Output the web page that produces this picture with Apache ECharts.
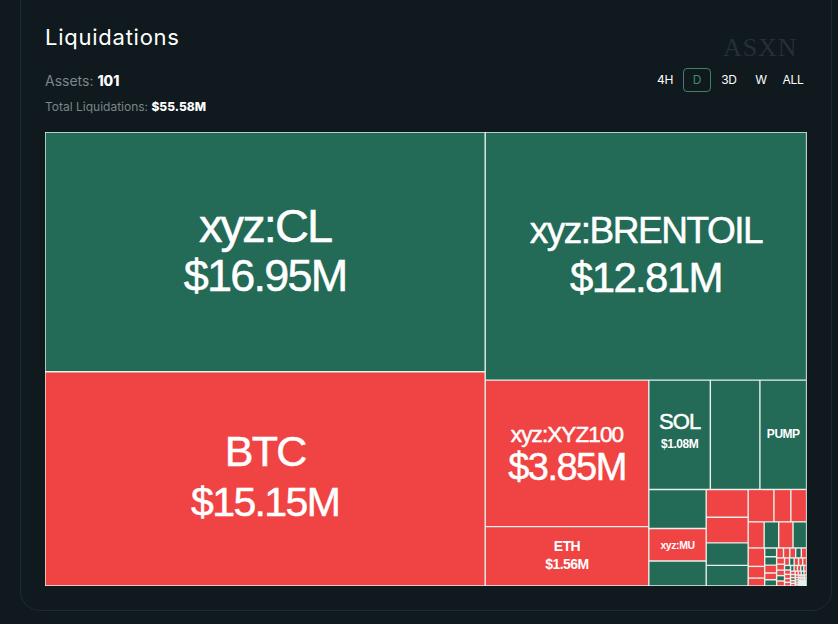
<!DOCTYPE html>
<html>
<head>
<meta charset="utf-8">
<title>Liquidations</title>
<script src="https://cdn.jsdelivr.net/npm/echarts@6/dist/echarts.min.js"></script>
<style>
  html, body { margin: 0; height: 100%; background: #0f191e; overflow: hidden; font-family: Inter, sans-serif; }
  #painel { position: absolute; left: 20px; top: -30px; width: 810px; height: 639px; border: 1px solid #1f2a30; border-radius: 20px; }
  #grafico { position: absolute; left: 0; top: 0; width: 838px; height: 624px; }
  #grafico svg text { letter-spacing: -0.04em; }
  .abs { position: absolute; white-space: nowrap; }
  #titulo { left: 45px; top: 23px; font-size: 22px; line-height: 28px; color: #fff; letter-spacing: 0.75px; }
  #assets { left: 45px; top: 72px; font-size: 14px; line-height: 18px; color: #7c8589; }
  #total { left: 45px; top: 99px; font-size: 12px; line-height: 16px; color: #7c8589; }
  #assets b, #total b { color: #fff; font-weight: 800; }
  #marca { left: 723px; top: 33px; font-family: "Liberation Serif", serif; font-size: 26px; line-height: 30px; color: #262f34; letter-spacing: 0.9px; }
  .btn { top: 68px; width: 28px; height: 24px; margin-left: -14px; box-sizing: border-box; text-align: center; font-size: 12px; line-height: 24px; color: #fff; letter-spacing: -0.3px; }
  .btn.ativo { border: 1px solid #3f7f6e; border-radius: 4px; line-height: 22px; color: #3f8a75; }
</style>
</head>
<body>
<div id="painel"></div>
<div id="grafico"></div>
<div id="titulo" class="abs">Liquidations</div>
<div id="assets" class="abs">Assets: <b>101</b></div>
<div id="total" class="abs">Total Liquidations: <b>$55.58M</b></div>
<div id="marca" class="abs">ASXN</div>
<script>
const periodos = ["4H", "D", "3D", "W", "ALL"];
const periodoAtivo = "D";
const periodoCentros = [665, 697, 729, 761, 793];

// nomes legiveis so nos blocos grandes, o resto fica sem rotulo
const nomes = ["xyz:CL", "BTC", "xyz:BRENTOIL", "xyz:XYZ100", "ETH", "SOL", "", "PUMP", "", "xyz:MU"];

const valores = [
  16.95, 15.15, 12.81, 3.85, 1.56, 1.08, 0.87, 0.82, 0.36, 0.30,
  0.23, 0.187, 0.173, 0.152, 0.139, 0.134, 0.088, 0.082, 0.067, 0.061,
  0.060, 0.057, 0.049, 0.031, 0.021, 0.017, 0.016, 0.015, 0.013, 0.012,
  0.011, 0.010, 0.0095, 0.009, 0.0085, 0.008, 0.0075, 0.007, 0.0068, 0.0064,
  0.006, 0.0056, 0.0053, 0.005, 0.0047, 0.0044, 0.0042, 0.004, 0.0037, 0.0035,
  0.0033, 0.0031, 0.003, 0.0028, 0.0026, 0.0025, 0.0024, 0.0022, 0.0021, 0.002,
  0.0019, 0.0018, 0.0017, 0.0016, 0.0015, 0.0014, 0.0013, 0.0012, 0.0011, 0.001,
  0.001, 0.0009, 0.0009, 0.0008, 0.0008, 0.0007, 0.0007, 0.0006, 0.0006, 0.0005,
  0.0005, 0.0005, 0.0004, 0.0004, 0.0004, 0.0003, 0.0003, 0.0003, 0.0003, 0.0002,
  0.0002, 0.0002, 0.0002, 0.0002, 0.0001, 0.0001, 0.0001, 0.0001, 0.0001, 0.0001,
  0.0001
];

// v = verde, r = vermelho
const lados = [
  "v", "r", "v", "r", "r", "v", "v", "v", "v", "r",
  "v", "r", "r", "v", "v", "r", "r", "r", "r", "v",
  "r", "v", "r", "r", "r", "v", "v", "r", "r", "v",
  "r", "r", "r", "v", "r", "r", "r", "r", "v", "r",
  "r", "v", "r", "r", "r", "v", "r", "r", "r", "r",
  "v", "r", "r", "v", "r", "r", "r", "v", "r", "r",
  "r", "r", "v", "r", "r", "r", "v", "r", "r", "r",
  "r", "v", "r", "r", "r", "r", "v", "r", "r", "r",
  "r", "v", "r", "r", "r", "r", "r", "v", "r", "r",
  "r", "r", "r", "r", "v", "r", "r", "r", "r", "r",
  "r"
];

const coresLado = { v: "#236a57", r: "#f04343" };

// fonte do nome, fonte do valor, altura da linha e descida do texto no bloco
// (no treemap o texto rico sempre comeca no topo do bloco, por isso a descida)
const fontes = {
  "xyz:CL": [47, 45, 50, 68],
  "BTC": [43, 41, 51, 53],
  "xyz:BRENTOIL": [37, 42, 47, 74],
  "xyz:XYZ100": [22.5, 38, 33, 37],
  "ETH": [14, 14, 18, 10],
  "SOL": [22, 12, 23, 29],
  "PUMP": [12, 0, 14, 46],
  "xyz:MU": [10.5, 0, 12, 10]
};

periodos.forEach((p, i) => {
  const el = document.createElement("div");
  el.className = "abs btn" + (p === periodoAtivo ? " ativo" : "");
  el.style.left = periodoCentros[i] + "px";
  el.textContent = p;
  document.body.appendChild(el);
});

function estiloTexto(tam, linha) {
  return {
    fontSize: tam,
    lineHeight: linha,
    color: "#fff",
    fontFamily: "Liberation Sans",
    fontWeight: tam < 16 ? 700 : 400,
    textBorderColor: "#fff",
    textBorderWidth: tam < 16 ? 0 : 0.5
  };
}

function rotulo(nome, valor) {
  const f = fontes[nome];
  if (!f) return { show: false };
  return {
    show: true,
    padding: 0,
    position: ["50%", 0],
    align: "center",
    verticalAlign: "top",
    offset: [0, f[3]],
    formatter: f[1] > 0 ? "{n|" + nome + "}\n{v|$" + valor.toFixed(2) + "M}" : "{n|" + nome + "}",
    rich: { n: estiloTexto(f[0], f[2]), v: estiloTexto(f[1] || 10, f[2]) }
  };
}

const dados = valores.map((v, i) => ({
  name: nomes[i] || "ativo " + (i + 1),
  value: v,
  itemStyle: { color: coresLado[lados[i]] },
  label: rotulo(nomes[i], v)
}));

const chart = echarts.init(document.getElementById("grafico"), null, { renderer: "svg" });
chart.setOption({
  backgroundColor: "transparent",
  animation: false,
  tooltip: { show: false },
  series: [{
    type: "treemap",
    left: 45,
    top: 132,
    width: 761.6,
    height: 454,
    roam: false,
    nodeClick: false,
    breadcrumb: { show: false },
    visibleMin: 0,
    itemStyle: { borderColor: "#e6f1ee", borderWidth: 0.7, gapWidth: 0 },
    levels: [{ itemStyle: { borderWidth: 0, gapWidth: 0 } }],
    data: dados
  }]
});
</script>
</body>
</html>
